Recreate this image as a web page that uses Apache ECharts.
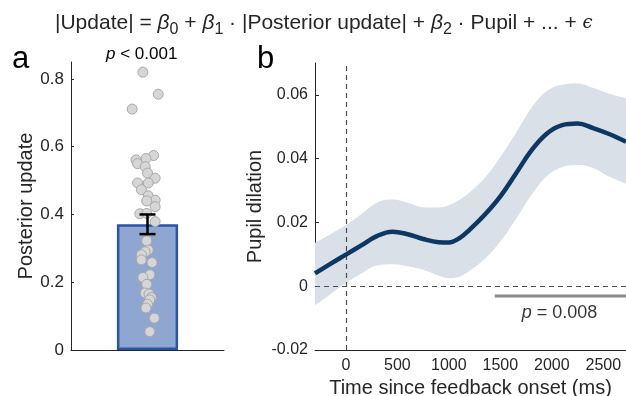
<!DOCTYPE html>
<html>
<head>
<meta charset="utf-8">
<script src="https://cdn.jsdelivr.net/npm/echarts@6/dist/echarts.min.js"></script>
<style>
  html, body { margin: 0; padding: 0; background: #fff; }
  #chart { width: 626px; height: 396px; }
</style>
</head>
<body>
<div id="chart"></div>
<script>
// Panel a: posterior update per participant, with group mean and SEM
const updateValues = [0.820, 0.755, 0.711, 0.574, 0.565, 0.561, 0.550, 0.541, 0.522, 0.507,
  0.493, 0.493, 0.473, 0.455, 0.442, 0.440, 0.423, 0.402, 0.403, 0.379,
  0.322, 0.295, 0.290, 0.281, 0.266, 0.258, 0.222, 0.214, 0.194, 0.168,
  0.165, 0.155, 0.148, 0.135, 0.124, 0.094, 0.054];
const updateJitter = [-0.06, 0.14, -0.20, 0.08, -0.02, -0.15, -0.13, -0.03, 0.00, 0.10,
  -0.13, 0.01, -0.08, 0.01, 0.10, -0.01, 0.10, -0.10, -0.01, 0.10,
  -0.01, 0.01, -0.03, -0.08, -0.08, 0.06, 0.03, -0.06, -0.01, -0.03,
  0.02, 0.05, 0.03, 0.00, -0.02, 0.09, 0.03];
const updateMean = 0.371;
const updateSem = 0.029;
const updateTicks = [0, 0.2, 0.4, 0.6, 0.8];

// Panel b: regression weight of pupil dilation over time, with confidence band
const timeMs = [-300, -150, 0, 150, 300, 450, 600, 750, 900, 1000, 1100, 1200, 1350, 1500,
  1650, 1800, 1950, 2100, 2250, 2400, 2550, 2720];
const pupilBeta = [0.0040, 0.0070, 0.0099, 0.0128, 0.0157, 0.0171, 0.0163, 0.0148, 0.0138,
  0.0137, 0.0150, 0.0177, 0.0225, 0.0282, 0.0353, 0.0425, 0.0478, 0.0505, 0.0510, 0.0496, 0.0478, 0.0453];
const pupilUpper = [0.0136, 0.0163, 0.0192, 0.0226, 0.0262, 0.0272, 0.0262, 0.0248, 0.0247,
  0.0254, 0.0270, 0.0294, 0.0340, 0.0405, 0.0480, 0.0558, 0.0612, 0.0632, 0.0636, 0.0622, 0.0604, 0.0589];
const pupilLower = [-0.0060, -0.0025, 0.0010, 0.0040, 0.0065, 0.0069, 0.0063, 0.0052, 0.0034,
  0.0025, 0.0030, 0.0048, 0.0086, 0.0140, 0.0210, 0.0285, 0.0345, 0.0373, 0.0380, 0.0371, 0.0345, 0.0322];
const sigCluster = [1445, 2720];
const sigLevel = -0.0031;
const sigLabelAt = 2075;
const timeTicks = [0, 500, 1000, 1500, 2000, 2500];
const pupilTicks = [-0.02, 0, 0.02, 0.04, 0.06];

const FONT = 'Liberation Sans, Arial, sans-serif';
const INK = '#262626';
const BAND = '#d9e0e7';

const chart = echarts.init(document.getElementById('chart'), null, { renderer: 'canvas' });

const axisLineStyle = { onZero: false, lineStyle: { color: INK, width: 1 } };
const smoothness = 0.4;

const option = {
  animation: false,
  backgroundColor: '#fff',
  textStyle: { fontFamily: FONT },
  title: [
    {
      text: '|Update| = {i|β}{sub|0} + {i|β}{sub|1} · |Posterior update| + {i|β}{sub|2} · Pupil + ... + {e|ϵ}',
      left: 50, top: 3,
      textStyle: {
        fontFamily: FONT, fontSize: 21, fontWeight: 'normal', color: INK,
        rich: {
          i: { fontFamily: FONT, fontSize: 21, fontStyle: 'italic', color: INK },
          e: { fontFamily: 'DejaVu Serif', fontSize: 18, fontStyle: 'italic', color: INK },
          sub: { fontFamily: FONT, fontSize: 16, color: INK, padding: [14, 0, 0, 0] }
        }
      }
    },
    {
      text: '{i|p} < 0.001',
      left: 101, top: 41,
      textStyle: {
        fontFamily: FONT, fontSize: 17, fontWeight: 'normal', color: '#000',
        rich: { i: { fontFamily: FONT, fontSize: 17, fontStyle: 'italic', color: '#000' } }
      }
    },
    { text: 'a', left: 7, top: 39, textStyle: { fontFamily: FONT, fontSize: 31, fontWeight: 'normal', color: '#000' } },
    { text: 'b', left: 252, top: 39, textStyle: { fontFamily: FONT, fontSize: 31, fontWeight: 'normal', color: '#000' } }
  ],
  grid: [
    { left: 71, top: 62, width: 153, height: 288, outerBoundsMode: 'none', containLabel: false },
    { left: 315, top: 63, right: 0, height: 287, outerBoundsMode: 'none', containLabel: false }
  ],
  xAxis: [
    {
      gridIndex: 0, type: 'category', data: [''],
      axisLine: axisLineStyle,
      axisTick: { inside: true, length: 3, alignWithLabel: true, lineStyle: { color: INK } },
      axisLabel: { show: false }
    },
    { gridIndex: 0, type: 'value', min: -1, max: 1, show: false, axisLine: { onZero: false } },
    {
      gridIndex: 1, type: 'value', min: -300, max: 2720,
      name: 'Time since feedback onset (ms)', nameLocation: 'middle', nameGap: 25,
      nameTextStyle: { fontFamily: FONT, fontSize: 20, color: INK },
      axisLine: axisLineStyle,
      axisTick: { inside: true, length: 4, customValues: timeTicks, lineStyle: { color: INK } },
      axisLabel: { customValues: timeTicks, formatter: v => String(v), fontFamily: FONT, fontSize: 16, color: INK, margin: 8 },
      splitLine: { show: false }
    }
  ],
  yAxis: [
    {
      gridIndex: 0, type: 'value', min: 0, max: 0.85,
      name: 'Posterior update', nameLocation: 'middle', nameGap: 25,
      nameTextStyle: { fontFamily: FONT, fontSize: 20, color: INK },
      axisLine: { show: true, onZero: false, lineStyle: { color: INK, width: 1 } },
      axisTick: { show: true, inside: true, length: 3, customValues: updateTicks, lineStyle: { color: INK } },
      axisLabel: { customValues: updateTicks, formatter: v => String(v), fontFamily: FONT, fontSize: 17, color: INK, margin: 7 },
      splitLine: { show: false }
    },
    {
      gridIndex: 1, type: 'value', min: -0.02, max: 0.07,
      name: 'Pupil dilation', nameLocation: 'middle', nameGap: 50,
      nameTextStyle: { fontFamily: FONT, fontSize: 20, color: INK },
      axisLine: { show: true, onZero: false, lineStyle: { color: INK, width: 1 } },
      axisTick: { show: true, inside: true, length: 4, customValues: pupilTicks, lineStyle: { color: INK } },
      axisLabel: { customValues: pupilTicks, formatter: v => String(Math.round(v * 100) / 100), fontFamily: FONT, fontSize: 16, color: INK, margin: 7 },
      splitLine: { show: false }
    }
  ],
  series: [
    // Panel a: mean bar
    {
      type: 'bar', xAxisIndex: 0, yAxisIndex: 0, z: 2,
      barWidth: '40%',
      data: [updateMean],
      itemStyle: { color: '#8ea6d0', borderColor: '#2a55a3', borderWidth: 2.5 }
    },
    // Panel a: individual participants
    {
      type: 'scatter', xAxisIndex: 1, yAxisIndex: 0, z: 3,
      symbolSize: 10,
      data: updateValues.map((v, i) => [updateJitter[i], v]),
      itemStyle: { color: '#d6d6d6', borderColor: '#a9a9a9', borderWidth: 1, opacity: 1 }
    },
    // Panel a: SEM error bar
    {
      type: 'custom', xAxisIndex: 0, yAxisIndex: 0, z: 4,
      data: [[0, updateMean - updateSem, updateMean + updateSem]],
      renderItem: function (params, api) {
        const lo = api.coord([api.value(0), api.value(1)]);
        const hi = api.coord([api.value(0), api.value(2)]);
        const half = 8;
        const style = { stroke: '#000', lineWidth: 2.5 };
        return {
          type: 'group',
          children: [
            { type: 'line', shape: { x1: lo[0], y1: lo[1], x2: hi[0], y2: hi[1] }, style: style },
            { type: 'line', shape: { x1: lo[0] - half, y1: lo[1], x2: lo[0] + half, y2: lo[1] }, style: style },
            { type: 'line', shape: { x1: hi[0] - half, y1: hi[1], x2: hi[0] + half, y2: hi[1] }, style: style }
          ]
        };
      }
    },
    // Panel b: confidence band = upper edge filled down, then cleared below lower edge
    {
      type: 'line', xAxisIndex: 2, yAxisIndex: 1, z: 1,
      smooth: smoothness, symbol: 'none', silent: true,
      data: timeMs.map((t, i) => [t, pupilUpper[i]]),
      lineStyle: { width: 0, opacity: 0 },
      areaStyle: { color: BAND, opacity: 1, origin: 'start' }
    },
    {
      type: 'line', xAxisIndex: 2, yAxisIndex: 1, z: 1,
      smooth: smoothness, symbol: 'none', silent: true,
      data: timeMs.map((t, i) => [t, pupilLower[i]]),
      lineStyle: { width: 0, opacity: 0 },
      areaStyle: { color: '#ffffff', opacity: 1, origin: 'start' }
    },
    // Panel b: mean weight time course with reference lines
    {
      type: 'line', xAxisIndex: 2, yAxisIndex: 1, z: 4,
      smooth: smoothness, symbol: 'none',
      data: timeMs.map((t, i) => [t, pupilBeta[i]]),
      lineStyle: { color: '#0c3863', width: 4.5 },
      markLine: {
        silent: true, symbol: 'none', animation: false, z: 3,
        label: { show: false },
        lineStyle: { color: '#4d4d4d', type: [5, 4], width: 1.2 },
        data: [{ xAxis: 0 }, { yAxis: 0 }]
      }
    },
    // Panel b: significant cluster
    {
      type: 'line', xAxisIndex: 2, yAxisIndex: 1, z: 3,
      symbol: 'none',
      data: sigCluster.map(t => [t, sigLevel]),
      lineStyle: { color: '#8a8a8a', width: 3 }
    },
    {
      type: 'scatter', xAxisIndex: 2, yAxisIndex: 1, z: 5,
      symbolSize: 0,
      data: [[sigLabelAt, sigLevel]],
      label: {
        show: true, position: 'bottom', distance: 8,
        formatter: '{i|p} = 0.008',
        fontFamily: FONT, fontSize: 18, color: '#000',
        rich: { i: { fontFamily: FONT, fontSize: 18, fontStyle: 'italic', color: '#000' } }
      }
    }
  ]
};

chart.setOption(option);
</script>
</body>
</html>
